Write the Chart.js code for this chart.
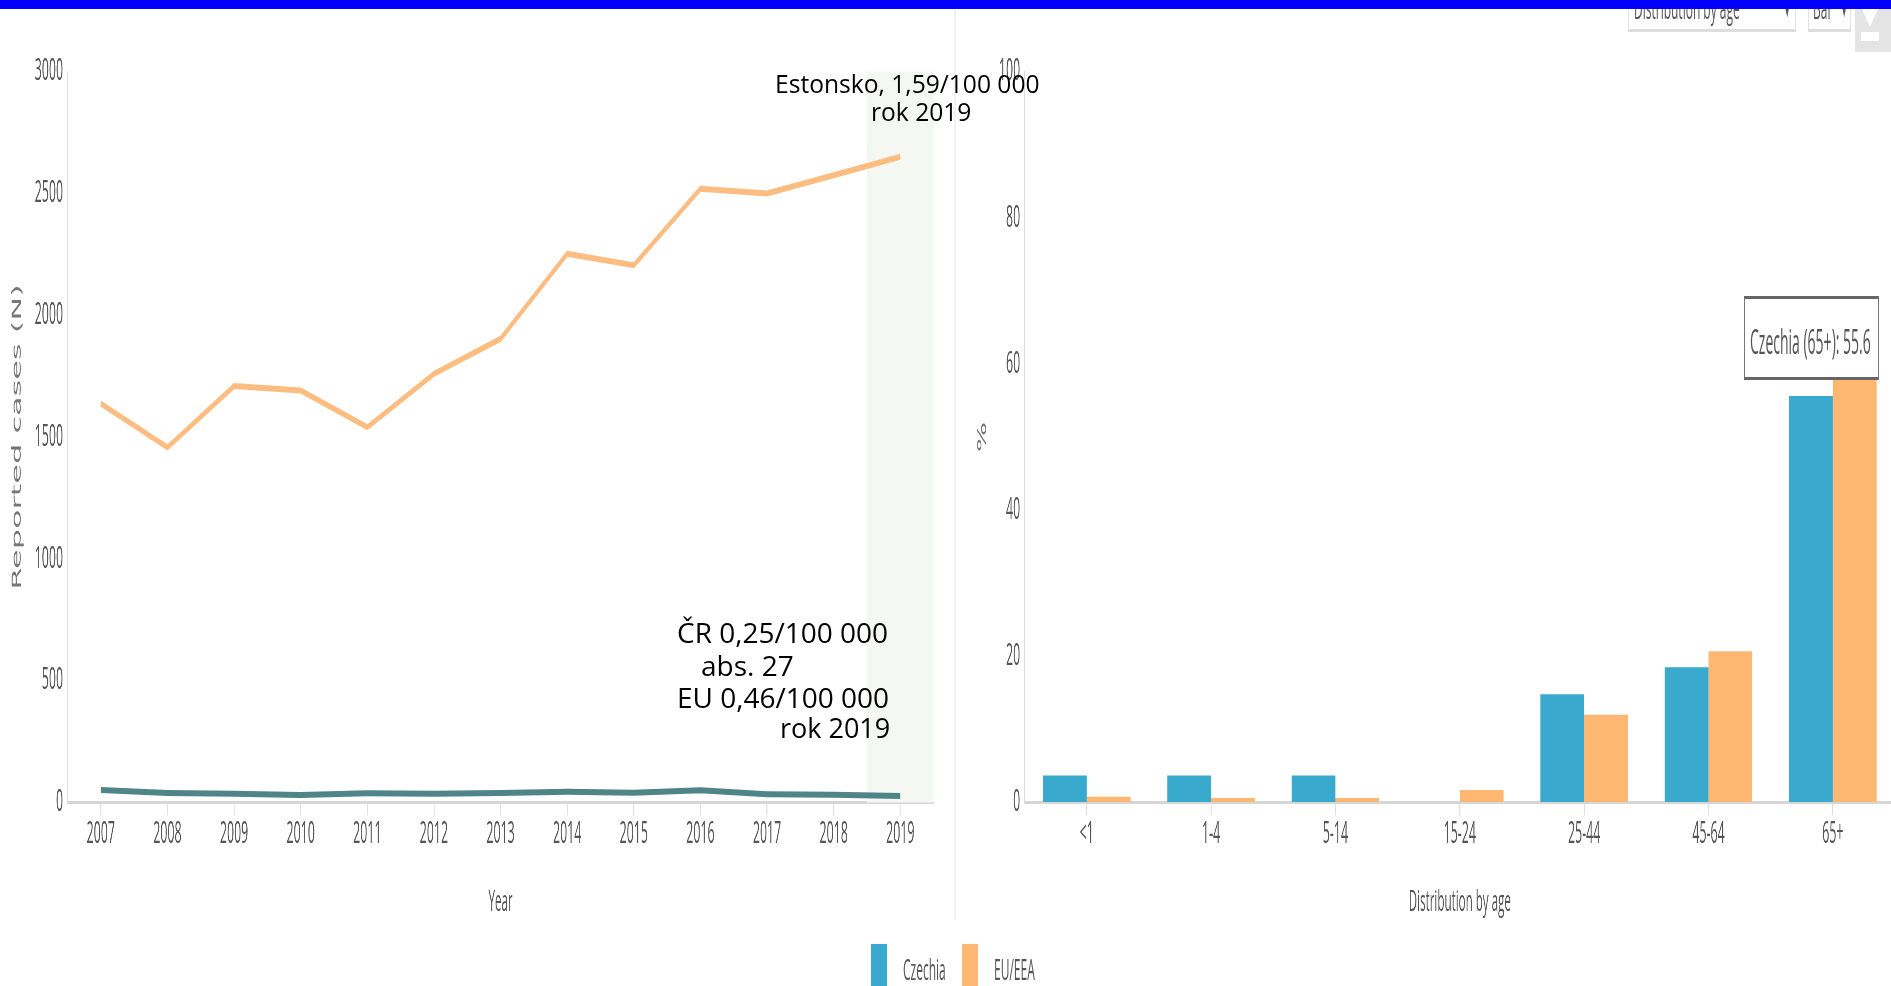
<!DOCTYPE html>
<html>
<head>
<meta charset="utf-8">
<title>Reported cases and distribution by age</title>
<script src="https://cdn.jsdelivr.net/npm/chart.js@4"></script>
<style>
html, body { margin: 0; height: 100%; overflow: hidden; background: #fff; }
.squeezed { position: absolute; top: 0; transform: scaleX(0.4); transform-origin: 0 0; }
.squeezed canvas { display: block; filter: blur(0.7px); }
.note { position: absolute; font: 28px "Open Sans", sans-serif; color: #000; white-space: pre; line-height: 30px; transform: translateY(-50%); }
.note.top { font-size: 24.6px; }
.thin { position: absolute; font: 30px "Open Sans", sans-serif; color: #555; white-space: pre; transform: translateY(-50%) scaleX(0.4); transform-origin: 0 50%; filter: blur(0.5px); }
.box { position: absolute; background: #fff; box-sizing: border-box; }
</style>
</head>
<body>
<div id="topBar" style="position:absolute;left:0;top:0;width:1891px;height:9px;background:#0000ff;z-index:5"></div>
<div class="box" style="left:954px;top:9px;width:2px;height:911px;background:#f1f1f1"></div>

<div class="squeezed" style="left:0"><canvas id="casesChart"></canvas></div>
<div class="squeezed" style="left:955px"><canvas id="ageChart"></canvas></div>

<!-- cut off controls above the charts -->
<div class="box" style="left:1628px;top:0;width:168px;height:32px;border:1px solid #e0e0e0;border-bottom:3px solid #ddd;overflow:hidden">
  <span class="thin" style="left:5px;top:6px">Distribution by age</span>
  <span class="thin" style="left:155px;top:10px;font-size:16px">▼</span>
</div>
<div class="box" style="left:1808px;top:0;width:43px;height:32px;border:1px solid #e0e0e0;border-bottom:3px solid #ddd;overflow:hidden">
  <span class="thin" style="left:4px;top:6px">Bar</span>
  <span class="thin" style="left:32px;top:10px;font-size:16px">▼</span>
</div>
<div class="box" style="left:1855px;top:0;width:36px;height:52px;background:#e4e4e4"></div>
<div class="box" style="left:1861px;top:32px;width:18px;height:9px;background:#fff"></div>
<div class="box" style="left:1862px;top:9px;width:16px;height:18px;background:none;border-left:8px solid transparent;border-right:8px solid transparent;border-top:18px solid #fff"></div>

<div id="tip" class="box" style="left:1744px;top:296px;width:135px;height:84px;border:1px solid #777;border-top:3px solid #666;border-bottom:3px solid #666">
  <span id="tipText" class="thin" style="left:5px;top:41px;font-size:35px"></span>
</div>

<div class="note top" style="left:775px;top:84px">Estonsko, 1,59/100 000</div>
<div class="note top" style="left:871px;top:112px">rok 2019</div>
<div class="note" style="left:677px;top:632px">ČR 0,25/100 000</div>
<div class="note" style="left:701px;top:665px">abs. 27</div>
<div class="note" style="left:677px;top:697px">EU 0,46/100 000</div>
<div class="note" style="left:780px;top:728px;font-size:27px">rok 2019</div>

<!-- legend -->
<div class="box" style="left:871px;top:944px;width:16px;height:42px;background:#39a9ce"></div>
<span class="thin" style="left:903px;top:968px">Czechia</span>
<div class="box" style="left:962px;top:944px;width:16px;height:42px;background:#feb872"></div>
<span class="thin" style="left:994px;top:968px">EU/EEA</span>

<script>
// Reported cases per year
const years = ['2007', '2008', '2009', '2010', '2011', '2012', '2013', '2014', '2015', '2016', '2017', '2018', '2019'];
const euCases = [1637, 1457, 1709, 1691, 1540, 1759, 1903, 2252, 2205, 2519, 2499, 2574, 2650];
const czCases = [51, 39, 36, 31, 38, 36, 39, 44, 40, 50, 34, 32, 27];
const highlightYear = '2019';

// Distribution by age (%)
const ageGroups = ['<1', '1-4', '5-14', '15-24', '25-44', '45-64', '65+'];
const czAge = [3.7, 3.7, 3.7, 0, 14.8, 18.5, 55.6];
const euAge = [0.8, 0.6, 0.6, 1.7, 12, 20.7, 63.5];

const blue = '#39a9ce';
const orange = '#feb872';
const lineOrange = '#fdbd80';
const teal = '#4f8488';
const tickFont = { family: 'Open Sans', size: 31 };
const axisTitleFont = { family: 'DejaVu Sans', size: 32 };

const canvasHeight = 986;
const plotTop = 71.5;
const plotBottom = 802.5;
const bottomSpace = 66;

function setup(id, width) {
    const canvas = document.getElementById(id);
    canvas.width = width;
    canvas.height = canvasHeight;
    return canvas;
}

// pale band behind the highlighted year
const bandPlugin = {
    id: 'band',
    beforeDatasetsDraw(chart) {
        const x = chart.scales.x;
        const half = (x.getPixelForValue(1) - x.getPixelForValue(0)) / 2;
        const center = x.getPixelForValue(years.indexOf(highlightYear));
        const ctx = chart.ctx;
        ctx.save();
        ctx.fillStyle = '#f5f8f2';
        ctx.fillRect(center - half, chart.chartArea.top, half * 2, chart.chartArea.height);
        ctx.restore();
    }
};

function xScale(titleText) {
    return {
        offset: true,
        title: { display: true, text: titleText, font: { family: 'Open Sans', size: 29 }, color: '#555', padding: { top: 40, bottom: 0 } },
        ticks: { color: '#555', font: tickFont, padding: 0, maxRotation: 0, autoSkip: false },
        grid: { offset: false, drawOnChartArea: false, tickLength: 13, color: '#ddd', lineWidth: 2.5 },
        border: { color: '#d6d6d6', width: 3 },
        afterFit(scale) { scale.height = canvasHeight - plotBottom - bottomSpace; }
    };
}

function yScale(titleText, axisWidth, max, step, titlePad) {
    return {
        min: 0,
        max: max,
        title: { display: true, text: titleText, font: axisTitleFont, color: '#777', padding: { top: titlePad, bottom: 0 } },
        ticks: { color: '#555', font: tickFont, stepSize: step, padding: 11, callback: value => String(value) },
        grid: { drawOnChartArea: false, drawTicks: false },
        border: { color: '#dcdcdc', width: 2 },
        afterFit(scale) { scale.width = axisWidth; }
    };
}

new Chart(setup('casesChart', 2375), {
    type: 'line',
    plugins: [bandPlugin],
    data: {
        labels: years,
        datasets: [
            { label: 'EU/EEA', data: euCases, borderColor: lineOrange, borderWidth: 6, pointRadius: 0, tension: 0 },
            { label: 'Czechia', data: czCases, borderColor: teal, borderWidth: 6, pointRadius: 0, tension: 0 }
        ]
    },
    options: {
        responsive: false,
        animation: false,
        devicePixelRatio: 1,
        layout: { padding: { top: plotTop, right: 41, bottom: bottomSpace, left: 0 } },
        plugins: { legend: { display: false }, tooltip: { enabled: false } },
        scales: {
            x: xScale('Year'),
            y: yScale('Reported cases (N)', 168.75, 3000, 500, 24)
        }
    }
});

new Chart(setup('ageChart', 2355), {
    type: 'bar',
    data: {
        labels: ageGroups,
        datasets: [
            { label: 'Czechia', data: czAge, backgroundColor: blue, categoryPercentage: 0.704, barPercentage: 1 },
            { label: 'EU/EEA', data: euAge, backgroundColor: orange, categoryPercentage: 0.704, barPercentage: 1 }
        ]
    },
    options: {
        responsive: false,
        animation: false,
        devicePixelRatio: 1,
        layout: { padding: { top: plotTop, right: 5, bottom: bottomSpace, left: 0 } },
        plugins: { legend: { display: false }, tooltip: { enabled: false } },
        scales: {
            x: xScale('Distribution by age'),
            y: yScale('%', 174, 100, 20, 50)
        }
    }
});

// tooltip frozen on the last Czechia bar
const tipIndex = ageGroups.length - 1;
document.getElementById('tipText').textContent = 'Czechia (' + ageGroups[tipIndex] + '): ' + czAge[tipIndex];
</script>
</body>
</html>
